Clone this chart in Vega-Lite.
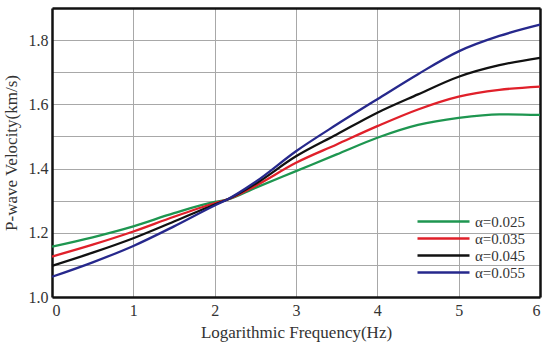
{
  "$schema": "https://vega.github.io/schema/vega-lite/v6.json",
  "width": 488,
  "height": 289,
  "autosize": {"type": "none"},
  "padding": {"left": 52, "top": 8, "right": 10, "bottom": 48},
  "data": {
    "values": [
      {"f": 0, "v": 1.157, "a": "α=0.025"},
      {"f": 0.5, "v": 1.186, "a": "α=0.025"},
      {"f": 1, "v": 1.220, "a": "α=0.025"},
      {"f": 1.5, "v": 1.261, "a": "α=0.025"},
      {"f": 2, "v": 1.296, "a": "α=0.025"},
      {"f": 2.15, "v": 1.303, "a": "α=0.025"},
      {"f": 2.5, "v": 1.340, "a": "α=0.025"},
      {"f": 3, "v": 1.392, "a": "α=0.025"},
      {"f": 3.5, "v": 1.444, "a": "α=0.025"},
      {"f": 4, "v": 1.496, "a": "α=0.025"},
      {"f": 4.5, "v": 1.536, "a": "α=0.025"},
      {"f": 5, "v": 1.558, "a": "α=0.025"},
      {"f": 5.5, "v": 1.569, "a": "α=0.025"},
      {"f": 6, "v": 1.567, "a": "α=0.025"},

      {"f": 0, "v": 1.126, "a": "α=0.035"},
      {"f": 0.5, "v": 1.163, "a": "α=0.035"},
      {"f": 1, "v": 1.204, "a": "α=0.035"},
      {"f": 1.5, "v": 1.250, "a": "α=0.035"},
      {"f": 2, "v": 1.292, "a": "α=0.035"},
      {"f": 2.15, "v": 1.303, "a": "α=0.035"},
      {"f": 2.5, "v": 1.346, "a": "α=0.035"},
      {"f": 3, "v": 1.418, "a": "α=0.035"},
      {"f": 3.5, "v": 1.475, "a": "α=0.035"},
      {"f": 4, "v": 1.532, "a": "α=0.035"},
      {"f": 4.5, "v": 1.584, "a": "α=0.035"},
      {"f": 5, "v": 1.624, "a": "α=0.035"},
      {"f": 5.5, "v": 1.645, "a": "α=0.035"},
      {"f": 6, "v": 1.655, "a": "α=0.035"},

      {"f": 0, "v": 1.097, "a": "α=0.045"},
      {"f": 0.5, "v": 1.138, "a": "α=0.045"},
      {"f": 1, "v": 1.183, "a": "α=0.045"},
      {"f": 1.5, "v": 1.235, "a": "α=0.045"},
      {"f": 2, "v": 1.288, "a": "α=0.045"},
      {"f": 2.15, "v": 1.303, "a": "α=0.045"},
      {"f": 2.5, "v": 1.352, "a": "α=0.045"},
      {"f": 3, "v": 1.438, "a": "α=0.045"},
      {"f": 3.5, "v": 1.506, "a": "α=0.045"},
      {"f": 4, "v": 1.574, "a": "α=0.045"},
      {"f": 4.5, "v": 1.631, "a": "α=0.045"},
      {"f": 5, "v": 1.686, "a": "α=0.045"},
      {"f": 5.5, "v": 1.722, "a": "α=0.045"},
      {"f": 6, "v": 1.745, "a": "α=0.045"},

      {"f": 0, "v": 1.063, "a": "α=0.055"},
      {"f": 0.5, "v": 1.108, "a": "α=0.055"},
      {"f": 1, "v": 1.159, "a": "α=0.055"},
      {"f": 1.5, "v": 1.220, "a": "α=0.055"},
      {"f": 2, "v": 1.285, "a": "α=0.055"},
      {"f": 2.15, "v": 1.303, "a": "α=0.055"},
      {"f": 2.5, "v": 1.358, "a": "α=0.055"},
      {"f": 3, "v": 1.454, "a": "α=0.055"},
      {"f": 3.5, "v": 1.537, "a": "α=0.055"},
      {"f": 4, "v": 1.616, "a": "α=0.055"},
      {"f": 4.5, "v": 1.694, "a": "α=0.055"},
      {"f": 5, "v": 1.765, "a": "α=0.055"},
      {"f": 5.5, "v": 1.813, "a": "α=0.055"},
      {"f": 6, "v": 1.848, "a": "α=0.055"}
    ]
  },
  "layer": [
    {
      "mark": {"type": "line", "interpolate": "monotone", "strokeWidth": 2.3},
      "encoding": {
        "x": {
          "field": "f",
          "type": "quantitative",
          "scale": {"domain": [0, 6], "nice": false},
          "axis": {
            "orient": "bottom",
            "grid": true,
            "gridColor": "#a8a8a8",
            "gridWidth": 1,
            "domain": true,
            "domainColor": "#111111",
            "domainWidth": 2.5,
            "ticks": false,
            "values": [0, 1, 2, 3, 4, 5, 6],
            "format": "d",
            "labelFont": "Liberation Serif",
            "labelFontSize": 16,
            "labelColor": "#333333",
            "labelPadding": 5,
            "title": "Logarithmic Frequency(Hz)",
            "titleFont": "Liberation Serif",
            "titleFontSize": 17,
            "titleFontWeight": "normal",
            "titleColor": "#333333",
            "titlePadding": 6
          }
        },
        "y": {
          "field": "v",
          "type": "quantitative",
          "scale": {"domain": [1.0, 1.9], "nice": false, "zero": false},
          "axis": {
            "orient": "left",
            "grid": true,
            "gridColor": "#a8a8a8",
            "gridWidth": 1,
            "domain": true,
            "domainColor": "#111111",
            "domainWidth": 2.5,
            "ticks": false,
            "values": [1.0, 1.1, 1.2, 1.3, 1.4, 1.5, 1.6, 1.7, 1.8, 1.9],
            "labelExpr": "round(datum.value * 10) % 2 == 0 ? format(datum.value, '.1f') : ''",
            "labelFont": "Liberation Serif",
            "labelFontSize": 16,
            "labelColor": "#333333",
            "labelPadding": 4,
            "title": "P-wave Velocity(km/s)",
            "titleFont": "Liberation Serif",
            "titleFontSize": 17,
            "titleFontWeight": "normal",
            "titleColor": "#333333",
            "titlePadding": 8
          }
        },
        "color": {
          "field": "a",
          "type": "nominal",
          "scale": {
            "domain": ["α=0.025", "α=0.035", "α=0.045", "α=0.055"],
            "range": ["#1e9650", "#e0202a", "#111111", "#26288c"]
          },
          "legend": {
            "title": null,
            "orient": "none",
            "legendX": 364,
            "legendY": 205,
            "padding": 0,
            "symbolType": "stroke",
            "symbolSize": 2704,
            "symbolStrokeWidth": 2.5,
            "clipHeight": 17,
            "labelOffset": 4,
            "rowPadding": 0,
            "labelFont": "Liberation Serif",
            "labelFontSize": 15,
            "labelColor": "#333333"
          }
        }
      }
    },
    {
      "mark": {"type": "line", "interpolate": "monotone", "strokeWidth": 1, "strokeOpacity": 0},
      "encoding": {
        "x": {
          "field": "f",
          "type": "quantitative",
          "axis": {
            "orient": "top",
            "grid": false,
            "labels": false,
            "ticks": false,
            "domain": true,
            "domainColor": "#111111",
            "domainWidth": 2.5,
            "title": null
          }
        },
        "y": {
          "field": "v",
          "type": "quantitative",
          "axis": {
            "orient": "right",
            "grid": false,
            "labels": false,
            "ticks": false,
            "domain": true,
            "domainColor": "#111111",
            "domainWidth": 2.5,
            "title": null
          }
        },
        "detail": {"field": "a", "type": "nominal"}
      }
    }
  ]
}
